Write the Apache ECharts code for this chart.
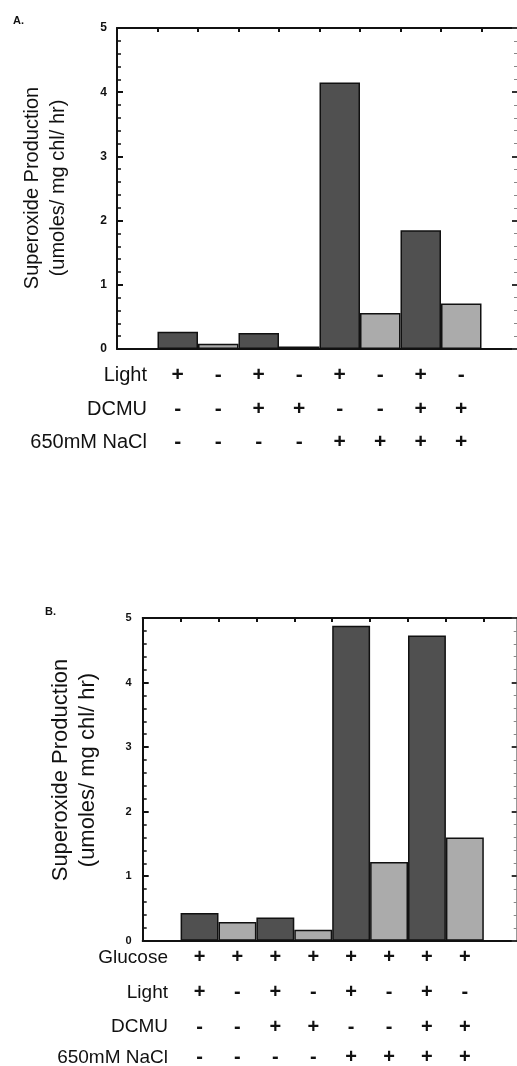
<!DOCTYPE html>
<html>
<head>
<meta charset="utf-8">
<script src="https://cdn.jsdelivr.net/npm/echarts@6/dist/echarts.min.js"></script>
<style>
html,body{margin:0;padding:0;background:#fff;}
#c{width:517px;height:1066px;}
</style>
</head>
<body>
<div id="c"></div>
<script>
// ---- data ----
const slots = ['', 'c1', 'c2', 'c3', 'c4', 'c5', 'c6', 'c7', 'c8', ''];
const valuesA = [0.27, 0.08, 0.25, 0.04, 4.15, 0.56, 1.85, 0.71];
const valuesB = [0.43, 0.29, 0.36, 0.17, 4.88, 1.22, 4.73, 1.60];
const lightA = ['+', '-', '+', '-', '+', '-', '+', '-'];
const dcmuA = ['-', '-', '+', '+', '-', '-', '+', '+'];
const naclA = ['-', '-', '-', '-', '+', '+', '+', '+'];
const glucoseB = ['+', '+', '+', '+', '+', '+', '+', '+'];
const lightB = ['+', '-', '+', '-', '+', '-', '+', '-'];
const dcmuB = ['-', '-', '+', '+', '-', '-', '+', '+'];
const naclB = ['-', '-', '-', '-', '+', '+', '+', '+'];
const rowNamesA = ['Light', 'DCMU', '650mM NaCl'];
const rowNamesB = ['Glucose', 'Light', 'DCMU', '650mM NaCl'];
const yTitleLines = ['Superoxide Production', '(umoles/ mg chl/ hr)'];
const panelLabels = ['A.', 'B.'];
const yMin = 0, yMax = 5, yStep = 1;

// ---- styling / layout ----
const FONT = 'Liberation Sans, Arial, sans-serif';
const INK = '#111';
const DARK = '#505050';
const LIGHT = '#ababab';

const chart = echarts.init(document.getElementById('c'), null, {renderer: 'canvas'});

const gridA = {left: 117, top: 28, width: 405, height: 321, outerBoundsMode: 'none', containLabel: false};
const gridB = {left: 142.7, top: 618, width: 379, height: 322.7, outerBoundsMode: 'none', containLabel: false};

function pad(arr) { return [null].concat(arr).concat([null]); }

function mainX(gi) {
  return {type: 'category', gridIndex: gi, data: slots, position: 'bottom',
    axisLine: {show: true, onZero: false, lineStyle: {color: INK, width: 2}},
    axisTick: {show: false}, axisLabel: {show: false}, splitLine: {show: false}};
}
function topX(gi) {
  return {type: 'category', gridIndex: gi, data: slots, position: 'top',
    axisLine: {show: true, onZero: false, lineStyle: {color: INK, width: 2}},
    axisTick: {show: true, inside: true, length: 4, lineStyle: {color: INK, width: 2}},
    axisLabel: {show: false}, splitLine: {show: false}};
}
function rowX(gi, arr, offset, size) {
  return {type: 'category', gridIndex: gi, data: slots, position: 'bottom', offset: offset,
    axisLine: {show: false, onZero: false}, axisTick: {show: false}, splitLine: {show: false},
    axisLabel: {show: true, interval: 0, margin: 0, verticalAlign: 'middle',
      fontFamily: FONT, fontSize: size, fontWeight: 'bold', color: INK,
      formatter: function (v, i) { return (i >= 1 && i <= arr.length) ? arr[i - 1] : ''; }}};
}
function leftY(gi, fs, margin) {
  return {type: 'value', gridIndex: gi, position: 'left', min: yMin, max: yMax, interval: yStep,
    axisLine: {show: true, onZero: false, lineStyle: {color: INK, width: 2}},
    axisTick: {show: true, inside: true, length: 6, lineStyle: {color: INK, width: 2}},
    minorTick: {show: true, splitNumber: 5, length: 4, lineStyle: {color: INK, width: 1.5}},
    axisLabel: {show: true, margin: margin, fontFamily: FONT, fontSize: fs, fontWeight: 'bold', color: INK},
    splitLine: {show: false}};
}
function rightY(gi) {
  return {type: 'value', gridIndex: gi, position: 'right', offset: -5, min: yMin, max: yMax, interval: yStep,
    axisLine: {show: true, onZero: false, lineStyle: {color: '#999', width: 1}},
    axisTick: {show: true, inside: true, length: 5, lineStyle: {color: '#333', width: 2}},
    minorTick: {show: true, splitNumber: 5, length: 3, lineStyle: {color: '#888', width: 1}},
    axisLabel: {show: false}, splitLine: {show: false}};
}
function barColor(lightArr) {
  return function (p) { return lightArr[p.dataIndex - 1] === '+' ? DARK : LIGHT; };
}

const yTitleText = yTitleLines.join('\n');

function textEl(x, y, text, size, weight, align) {
  return {type: 'text', x: x, y: y, silent: true,
    style: {text: text, fontFamily: FONT, fontSize: size, fontWeight: weight, fill: INK,
      align: align, verticalAlign: 'middle'}};
}

const graphics = [
  textEl(13, 21, panelLabels[0], 11, 'bold', 'left'),
  textEl(45, 612, panelLabels[1], 11, 'bold', 'left'),
  {type: 'text', x: 45, y: 188, rotation: Math.PI / 2, silent: true,
    style: {text: yTitleText, fontFamily: FONT, fontSize: 20, lineHeight: 26, fill: INK,
      align: 'center', verticalAlign: 'middle'}},
  {type: 'text', x: 74.5, y: 770, rotation: Math.PI / 2, silent: true,
    style: {text: yTitleText, fontFamily: FONT, fontSize: 22, lineHeight: 27, fill: INK,
      align: 'center', verticalAlign: 'middle'}}
];
const rowYA = [375, 409, 442];
rowNamesA.forEach(function (n, i) { graphics.push(textEl(147, rowYA[i], n, 20, 'normal', 'right')); });
const rowYB = [958, 993, 1027, 1058];
rowNamesB.forEach(function (n, i) { graphics.push(textEl(168, rowYB[i], n, 19, 'normal', 'right')); });

const option = {
  backgroundColor: '#fff',
  animation: false,
  grid: [gridA, gridB],
  xAxis: [
    mainX(0), topX(0),
    rowX(0, lightA, 26, 21), rowX(0, dcmuA, 60, 21), rowX(0, naclA, 93, 21),
    mainX(1), topX(1),
    rowX(1, glucoseB, 17, 20), rowX(1, lightB, 52, 20), rowX(1, dcmuB, 87, 20), rowX(1, naclB, 117, 20)
  ],
  yAxis: [leftY(0, 12, 10), rightY(0), leftY(1, 11, 11), rightY(1)],
  series: [
    {type: 'bar', xAxisIndex: 0, yAxisIndex: 0, data: pad(valuesA), barWidth: '100%', barCategoryGap: 0,
      itemStyle: {color: barColor(lightA), borderColor: '#111', borderWidth: 1.5}},
    {type: 'bar', xAxisIndex: 5, yAxisIndex: 2, data: pad(valuesB), barWidth: '100%', barCategoryGap: 0,
      itemStyle: {color: barColor(lightB), borderColor: '#111', borderWidth: 1.5}}
  ],
  graphic: graphics
};
chart.setOption(option);
</script>
</body>
</html>
